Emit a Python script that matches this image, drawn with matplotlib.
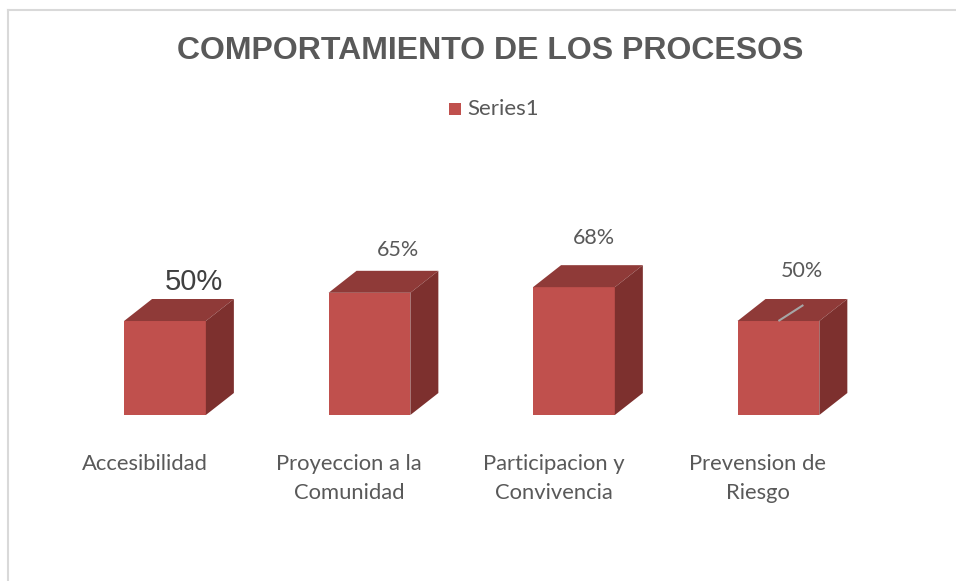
import matplotlib.pyplot as plt
from matplotlib.patches import Polygon, Rectangle
from matplotlib.lines import Line2D

categories = ["Accesibilidad", "Proyeccion a la\nComunidad",
              "Participacion y\nConvivencia", "Prevension de\nRiesgo"]
values = [50, 65, 68, 50]
value_labels = ["50%", "65%", "68%", "50%"]
series_name = "Series1"

FRONT = "#C0504D"
TOP = "#8F3A38"
SIDE = "#7D302E"
TEXT = "#595959"

fig = plt.figure(figsize=(9.56, 5.81), dpi=100)
# chart area border (light gray, cut off at right/bottom like the source)
fig.add_artist(Line2D([0.0088, 0.0088], [0.0, 0.982], color="#D9D9D9", lw=1.5,
                      transform=fig.transFigure))
fig.add_artist(Line2D([0.0088, 1.0], [0.982, 0.982], color="#D9D9D9", lw=1.5,
                      transform=fig.transFigure))

ax = fig.add_axes([0.0656, 0.2857, 0.8556, 0.3236])
ax.set_xlim(-0.5, 3.5)
ax.set_ylim(0, 100)
ax.axis("off")

bar_w = 0.40
dx, dy = 0.137, 11.7   # depth offset of the 3-D box

for i, v in enumerate(values):
    x0, x1 = i - bar_w / 2, i + bar_w / 2
    ax.add_patch(Rectangle((x0, 0), bar_w, v, facecolor=FRONT, edgecolor="none",
                           clip_on=False))
    ax.add_patch(Polygon([(x0, v), (x1, v), (x1 + dx, v + dy), (x0 + dx, v + dy)],
                         closed=True, facecolor=TOP, edgecolor="none", clip_on=False))
    ax.add_patch(Polygon([(x1, 0), (x1 + dx, dy), (x1 + dx, v + dy), (x1, v)],
                         closed=True, facecolor=SIDE, edgecolor="none", clip_on=False))
    # category label below the floor
    ax.text(i - 0.10, -20.5, categories[i], ha="center", va="top", fontsize=15.8,
            family="Lato", color=TEXT, linespacing=1.62, clip_on=False)

# data labels (first one is larger, as in the source)
lbl_dx = [0.142, 0.142, 0.098, 0.117]
lbl_dy = [20.7, 22.8, 26.0, 26.6]
for i, v in enumerate(values):
    big = i == 0
    ax.text(i + lbl_dx[i], v + lbl_dy[i], value_labels[i], ha="center", va="center",
            fontsize=21 if big else 15.5,
            family="Liberation Sans" if big else "Lato",
            color="#404040" if big else TEXT, clip_on=False)

# leader line on last bar
ax.plot([3, 3 + 0.122], [values[3], values[3] + 8.5], color="#A6A6A6", lw=1.5,
        clip_on=False, solid_capstyle="butt")

fig.text(0.513, 0.912, "COMPORTAMIENTO DE LOS PROCESOS", ha="center", va="center",
         fontsize=23, fontweight="bold", family="Liberation Sans", color=TEXT)

# legend
fig.add_artist(Rectangle((0.4697, 0.802), 0.0126, 0.0207, facecolor=FRONT,
                         edgecolor="none", transform=fig.transFigure))
fig.text(0.4885, 0.812, series_name, ha="left", va="center", fontsize=16,
         family="Lato", color=TEXT)

fig.savefig("out.png", dpi=100)
